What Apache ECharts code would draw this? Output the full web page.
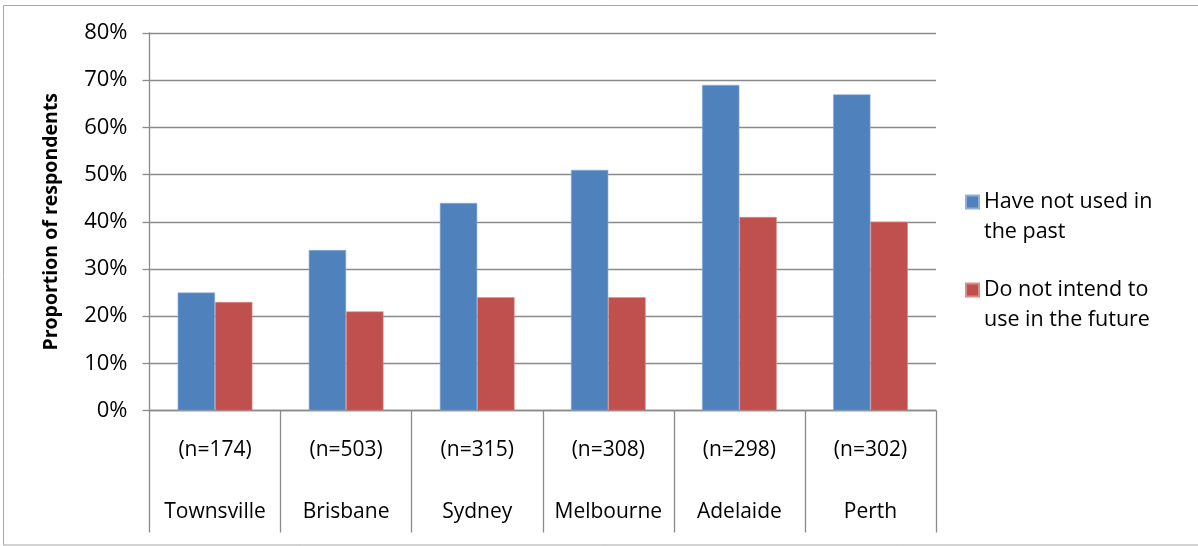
<!DOCTYPE html>
<html>
<head>
<meta charset="utf-8">
<script src="https://cdn.jsdelivr.net/npm/echarts@6/dist/echarts.min.js"></script>
<style>
  html, body { margin: 0; padding: 0; background: #fff; }
  #chart { width: 1198px; height: 546px; }
</style>
</head>
<body>
<div id="chart"></div>
<script>
// Survey results by city
const cities = ['Townsville', 'Brisbane', 'Sydney', 'Melbourne', 'Adelaide', 'Perth'];
const sampleSizes = [174, 503, 315, 308, 298, 302];
const seriesNames = ['Have not used in\nthe past', 'Do not intend to\nuse in the future'];
const notUsedPast = [25, 34, 44, 51, 69, 67];
const notIntendFuture = [23, 21, 24, 24, 41, 40];

const FONT = '"Open Sans", Lato, sans-serif';
const GRID_COLOR = '#8a8a8a';
const chart = echarts.init(document.getElementById('chart'), null, { renderer: 'canvas' });

chart.setOption({
  animation: false,
  backgroundColor: '#ffffff',
  textStyle: { fontFamily: FONT, color: '#000' },
  graphic: [{
    type: 'rect',
    shape: { x: 3.5, y: 5.5, width: 1200, height: 539.5 },
    style: { fill: 'none', stroke: '#a6a6a6', lineWidth: 1 },
    silent: true
  }],
  grid: { left: 149.5, right: 262, top: 33, bottom: 135.5 },
  // one legend block per series; the leading blank line keeps the swatch beside the first text line
  legend: [0, 1].map(i => ({
    data: [seriesNames[i]],
    left: 965,
    top: i === 0 ? 157 : 245,
    padding: 0,
    orient: 'vertical',
    itemWidth: 13,
    itemHeight: 13,
    icon: 'rect',
    formatter: name => '\n' + name,
    textStyle: { fontFamily: FONT, fontSize: 21.5, color: '#000', lineHeight: 30 }
  })),
  xAxis: {
    type: 'category',
    data: cities,
    axisLine: { lineStyle: { color: GRID_COLOR, width: 1.3 } },
    axisTick: { show: true, length: 122, alignWithLabel: false, lineStyle: { color: GRID_COLOR, width: 1.3 } },
    axisLabel: {
      interval: 0,
      margin: 24,
      fontSize: 21,
      lineHeight: 31,
      color: '#000',
      fontFamily: FONT,
      formatter: (v, idx) => '(n=' + sampleSizes[idx] + ')\n\n' + v
    }
  },
  yAxis: {
    type: 'value',
    min: 0,
    max: 80,
    interval: 10,
    name: 'Proportion of respondents',
    nameLocation: 'middle',
    nameRotate: 90,
    nameGap: 88,
    nameTextStyle: { fontFamily: FONT, fontSize: 19.5, fontWeight: 'bold', color: '#000' },
    axisLine: { show: true, lineStyle: { color: GRID_COLOR, width: 1.3 } },
    axisTick: { show: true, length: 7, lineStyle: { color: GRID_COLOR, width: 1.3 } },
    axisLabel: { formatter: '{value}%', fontSize: 22, margin: 22, color: '#000', fontFamily: FONT },
    splitLine: { lineStyle: { color: GRID_COLOR, width: 1.3 } }
  },
  series: [
    {
      name: seriesNames[0],
      type: 'bar',
      data: notUsedPast,
      barGap: '0%',
      barCategoryGap: '43%',
      itemStyle: { color: '#4F81BD', borderColor: '#8fb0d8', borderWidth: 0.6 }
    },
    {
      name: seriesNames[1],
      type: 'bar',
      data: notIntendFuture,
      barGap: '0%',
      barCategoryGap: '43%',
      itemStyle: { color: '#C0504D', borderColor: '#d98c8a', borderWidth: 0.6 }
    }
  ]
});
</script>
</body>
</html>
